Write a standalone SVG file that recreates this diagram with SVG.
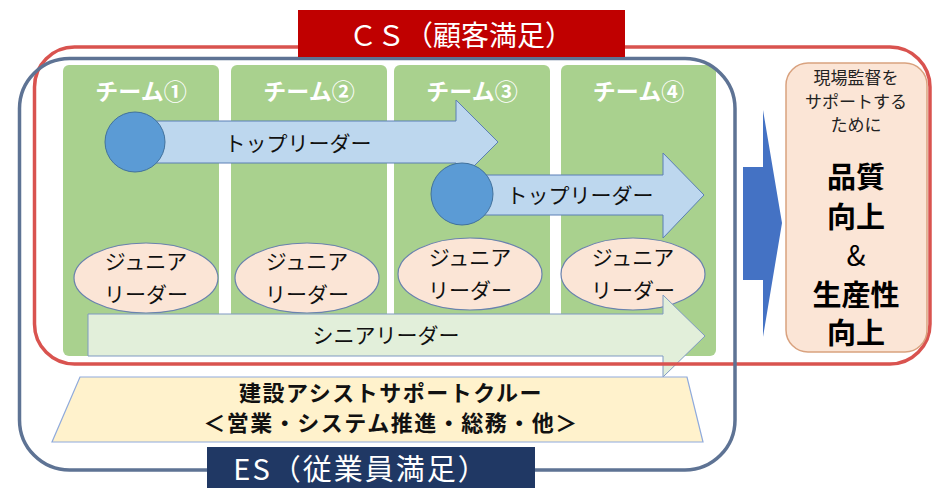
<svg xmlns="http://www.w3.org/2000/svg" width="933" height="488" viewBox="0 0 933 488">
<style>
text{font-family:"Noto Sans CJK JP","Noto Sans",sans-serif;}
.col{fill:#A9D18E;}
.team{fill:#fff;font-size:23px;font-weight:bold;text-anchor:middle;}
.arrowB{fill:#BDD7EE;stroke:#5B7FB5;stroke-width:1;}
.circ{fill:#5B9BD5;stroke:#41719C;stroke-width:1;}
.ell{fill:#FBE5D6;stroke:#6A82AE;stroke-width:1.2;}
.lbl{fill:#111;font-size:21px;text-anchor:middle;}
.sen{fill:#E2EFDA;stroke:#7F99C2;stroke-width:1;}
.trap{fill:#FFF2CC;stroke:#8FAADC;stroke-width:1.2;}
.crew{fill:#111;font-size:22px;font-weight:bold;text-anchor:middle;letter-spacing:1.5px;}
.box{fill:#FBE5D6;stroke:#D9A27F;stroke-width:1.5;}
.sm{fill:#222;font-size:17px;text-anchor:middle;}
.big{fill:#000;font-size:29px;font-weight:bold;text-anchor:middle;}
</style>

<g id="team1"><rect class="col" x="63" y="65" width="156" height="291" rx="6"/><text class="team" x="141" y="100">チーム①</text></g>
<g id="team2"><rect class="col" x="231" y="65" width="156" height="291" rx="6"/><text class="team" x="309" y="100">チーム②</text></g>
<g id="team3"><rect class="col" x="394" y="65" width="156" height="291" rx="6"/><text class="team" x="472" y="100">チーム③</text></g>
<g id="team4"><rect class="col" x="561" y="65" width="155" height="291" rx="6"/><text class="team" x="638.5" y="100">チーム④</text></g>

<g id="junior1"><ellipse class="ell" cx="146" cy="278" rx="72" ry="35"/><text class="lbl" x="146" y="269">ジュニア</text><text class="lbl" x="146" y="302">リーダー</text></g>
<g id="junior2"><ellipse class="ell" cx="307" cy="278" rx="72" ry="35"/><text class="lbl" x="307" y="269">ジュニア</text><text class="lbl" x="307" y="302">リーダー</text></g>
<g id="junior3"><ellipse class="ell" cx="470" cy="274" rx="72" ry="36"/><text class="lbl" x="470" y="265">ジュニア</text><text class="lbl" x="470" y="298">リーダー</text></g>
<g id="junior4"><ellipse class="ell" cx="633" cy="274" rx="72" ry="36"/><text class="lbl" x="633" y="265">ジュニア</text><text class="lbl" x="633" y="298">リーダー</text></g>

<g id="topleader1"><path class="arrowB" d="M150,121 H456 V100 L498,142 L456,184 V163 H150 Z"/><circle class="circ" cx="135" cy="142" r="30"/><text class="lbl" x="298" y="151">トップリーダー</text></g>
<g id="topleader2"><path class="arrowB" d="M470,175 H663 V153 L704,195 L663,238 V215 H470 Z"/><circle class="circ" cx="462" cy="194" r="31"/><text class="lbl" x="580" y="203">トップリーダー</text></g>

<g id="senior"><path class="sen" d="M88,314 H663 V295 L705,336 L663,377 V356 H88 Z"/><text class="lbl" x="386" y="343">シニアリーダー</text></g>

<g id="crew"><polygon class="trap" points="80,377 687,377 703,442 52,442"/><text class="crew" x="391" y="401">建設アシストサポートクルー</text><text class="crew" x="391" y="431">＜営業・システム推進・総務・他＞</text></g>

<g id="cs-frame"><rect x="34.5" y="47" width="895.5" height="317" rx="40" fill="none" stroke="#D9534F" stroke-width="3.5"/></g>
<g id="es-frame"><rect x="19.5" y="58.5" width="715.5" height="411.5" rx="50" fill="none" stroke="#5E7394" stroke-width="3.5"/></g>

<g id="cs-label"><rect x="298" y="10" width="327" height="47" fill="#C00000"/><text x="461" y="46" fill="#fff" font-size="28" text-anchor="middle">ＣＳ（顧客満足）</text></g>
<g id="es-label"><rect x="207" y="447" width="328" height="45" fill="#203864"/><text x="361" y="480" fill="#fff" font-size="29" text-anchor="middle" letter-spacing="2">ES（従業員満足）</text></g>

<g id="connectors"><path d="M743,167 H763 V110 L782,223 L763,337 V280 H743 Z" fill="#4472C4"/></g>

<g id="goal"><rect class="box" x="786" y="63" width="141" height="289" rx="22"/>
<text class="sm" x="856" y="84">現場監督を</text>
<text class="sm" x="856" y="108">サポートする</text>
<text class="sm" x="856" y="131">ために</text>
<text class="big" x="856" y="188">品質</text>
<text class="big" x="856" y="228">向上</text>
<text x="856" y="266" font-size="28" text-anchor="middle" fill="#000">&amp;</text>
<text class="big" x="856" y="306">生産性</text>
<text class="big" x="856" y="344">向上</text>
</g>
</svg>
